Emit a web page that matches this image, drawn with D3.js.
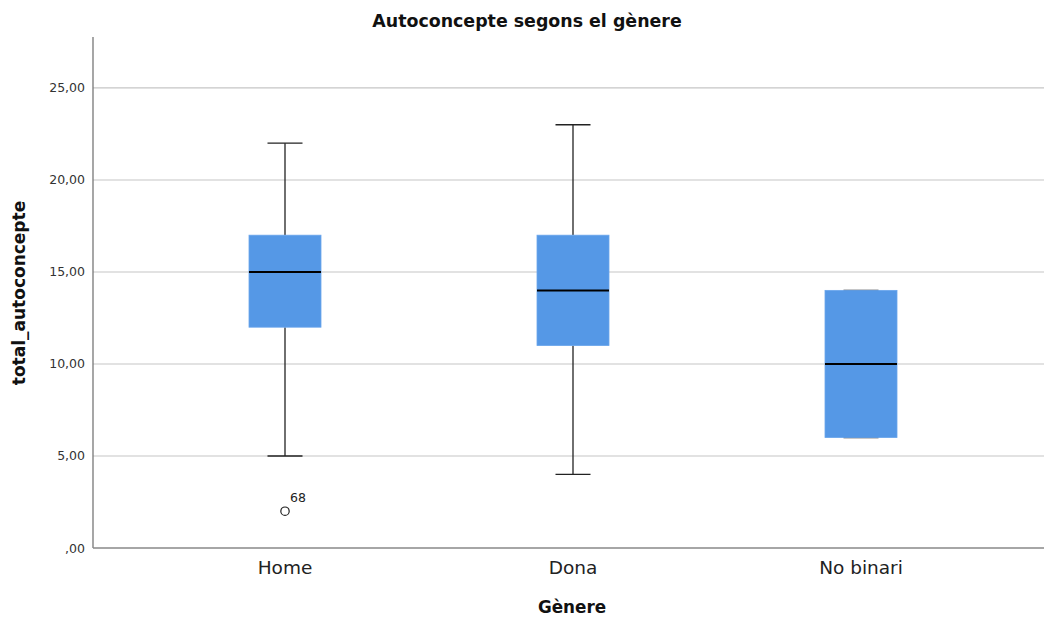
<!DOCTYPE html>
<html><head><meta charset="utf-8">
<script src="https://cdn.jsdelivr.net/npm/d3@7"></script>
<style>body{margin:0;background:#fff}svg{display:block}text{font-family:"DejaVu Sans","Open Sans",sans-serif}</style>
</head><body>
<svg id="c" width="1044" height="621"></svg>
<script>
const categories = ["Home", "Dona", "No binari"];
const whiskerLow = [5, 4, 6];
const q1 = [12, 11, 6];
const median = [15, 14, 10];
const q3 = [17, 17, 14];
const whiskerHigh = [22, 23, 14];
const outliers = [{cat: "Home", value: 2, label: "68"}];
const yTicks = [0, 5, 10, 15, 20, 25];

(function () {
const svg = d3.select("#c");
const pLeft = 93, pRight = 1044, pTop = 37, pBottom = 548;
const y = d3.scaleLinear().domain([0, 27.77]).range([pBottom, pTop]);
const x = d3.scaleBand().domain(categories).range([141, 1005]);
const bw = 72, cw = 35;
const fmt = v => v === 0 ? ",00" : d3.format(".2f")(v).replace(".", ",");

// grid
svg.append("g").selectAll("line").data(yTicks.filter(d => d > 0)).join("line")
  .attr("x1", pLeft).attr("x2", pRight).attr("y1", d => y(d)).attr("y2", d => y(d))
  .attr("stroke", "#c6c6c6").attr("stroke-width", 1.2);

// y axis
const ya = svg.append("g").attr("transform", `translate(${pLeft},0)`)
  .call(d3.axisLeft(y).tickValues(yTicks).tickFormat(fmt).tickSize(0).tickPadding(8));
ya.select(".domain").remove();
ya.selectAll("text").attr("font-size", 12.5).attr("fill", "#333").attr("font-family", "DejaVu Sans");
svg.append("line").attr("x1", pLeft).attr("x2", pLeft).attr("y1", pTop).attr("y2", pBottom)
  .attr("stroke", "#777").attr("stroke-width", 1.3);

// x axis
const xa = svg.append("g").attr("transform", `translate(0,${pBottom})`)
  .call(d3.axisBottom(x).tickSize(0).tickPadding(13));
xa.select(".domain").remove();
xa.selectAll("text").attr("font-size", 18.5).attr("fill", "#222").attr("font-family", "DejaVu Sans");
svg.append("line").attr("x1", pLeft).attr("x2", pRight).attr("y1", pBottom).attr("y2", pBottom)
  .attr("stroke", "#888").attr("stroke-width", 1.6);

// boxes
const data = categories.map((c, i) => ({c, lo: whiskerLow[i], q1: q1[i], med: median[i], q3: q3[i], hi: whiskerHigh[i]}));
const g = svg.append("g");
data.forEach(d => {
  const cx = x(d.c) + x.bandwidth() / 2;
  g.append("line").attr("x1", cx).attr("x2", cx).attr("y1", y(d.hi)).attr("y2", y(d.q3)).attr("stroke", "#222").attr("stroke-width", 1.3);
  g.append("line").attr("x1", cx).attr("x2", cx).attr("y1", y(d.q1)).attr("y2", y(d.lo)).attr("stroke", "#222").attr("stroke-width", 1.3);
  [d.hi, d.lo].forEach(v => g.append("line").attr("x1", cx - cw / 2).attr("x2", cx + cw / 2)
    .attr("y1", y(v)).attr("y2", y(v)).attr("stroke", "#222").attr("stroke-width", 1.3));
  g.append("rect").attr("x", cx - bw / 2).attr("width", bw).attr("y", y(d.q3)).attr("height", y(d.q1) - y(d.q3))
    .attr("fill", "#5598e6").attr("stroke", "#6aa6ec").attr("stroke-width", 0.8);
  g.append("line").attr("x1", cx - bw / 2).attr("x2", cx + bw / 2).attr("y1", y(d.med)).attr("y2", y(d.med))
    .attr("stroke", "#000").attr("stroke-width", 2);
});

// outliers
outliers.forEach(o => {
  const cx = x(o.cat) + x.bandwidth() / 2;
  g.append("circle").attr("cx", cx).attr("cy", y(o.value)).attr("r", 4.2).attr("fill", "#fff").attr("stroke", "#222").attr("stroke-width", 1.2);
  g.append("text").attr("x", cx + 5).attr("y", y(o.value) - 9).attr("font-size", 12.5).attr("fill", "#222").text(o.label);
});

// titles
svg.append("text").attr("x", 527).attr("y", 27).attr("text-anchor", "middle").attr("font-size", 17.4).attr("font-weight", "bold").attr("fill", "#111").text("Autoconcepte segons el gènere");
svg.append("text").attr("x", 572).attr("y", 613).attr("text-anchor", "middle").attr("font-size", 16.8).attr("font-weight", "bold").attr("fill", "#111").text("Gènere");
svg.append("text").attr("transform", "translate(25,293) rotate(-90)").attr("text-anchor", "middle").attr("font-size", 17).attr("font-weight", "bold").attr("fill", "#111").text("total_autoconcepte");
})();
</script>
</body></html>
